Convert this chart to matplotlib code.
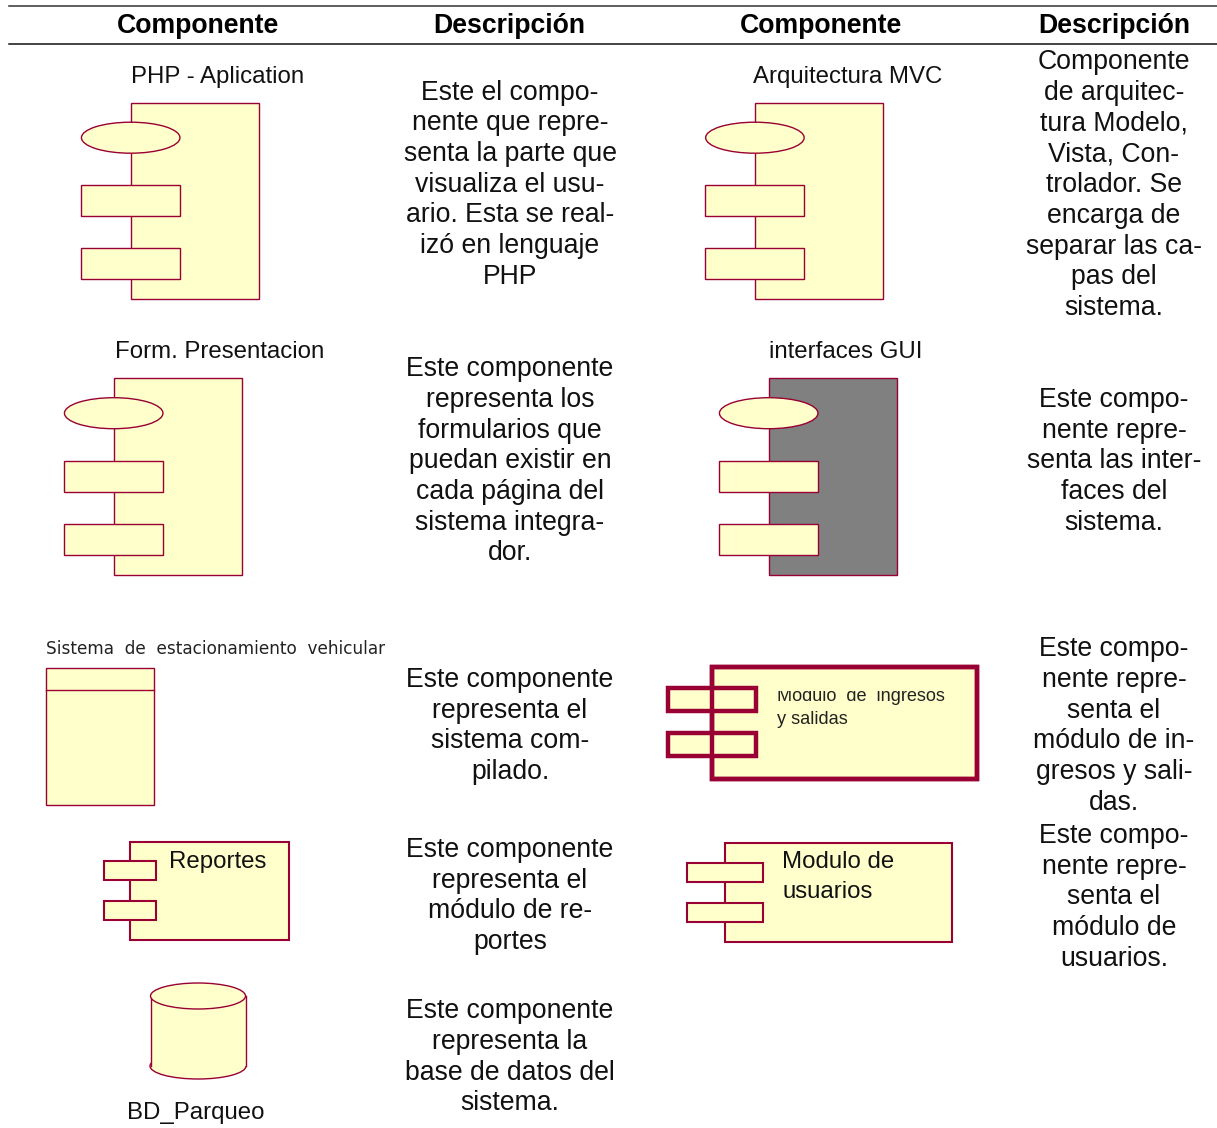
import matplotlib
matplotlib.use("Agg")
import matplotlib.pyplot as plt
from matplotlib.patches import Rectangle, Ellipse

plt.rcParams['font.family'] = ['Liberation Sans', 'DejaVu Sans']

FILL = "#FFFFCC"
EDGE = "#990033"
GREY = "#808080"
LINE_H = 30.75
TEXT_SIZE = 19.15
LABEL_SIZE = 17.3

headers = ["Componente", "Descripción", "Componente", "Descripción"]
header_x = [198, 509, 821, 1114]

# description column 2: first baseline, lines
desc_left_y = [99.5, 376, 687, 857, 1018]
desc_left = [
    ["Este el compo-", "nente que repre-", "senta la parte que", "visualiza el usu-",
     "ario. Esta se real-", "izó en lenguaje", "PHP"],
    ["Este componente", "representa los", "formularios que", "puedan existir en",
     "cada página del", "sistema integra-", "dor."],
    ["Este componente", "representa el", "sistema com-", "pilado."],
    ["Este componente", "representa el", "módulo de re-", "portes"],
    ["Este componente", "representa la", "base de datos del", "sistema."],
]

# description column 4
desc_right_y = [69, 407, 656, 843]
desc_right = [
    ["Componente", "de arquitec-", "tura Modelo,", "Vista, Con-", "trolador. Se",
     "encarga de", "separar las ca-", "pas del", "sistema."],
    ["Este compo-", "nente repre-", "senta las inter-", "faces del", "sistema."],
    ["Este compo-", "nente repre-", "senta el", "módulo de in-", "gresos y sali-", "das."],
    ["Este compo-", "nente repre-", "senta el", "módulo de", "usuarios."],
]

# big components with the ellipse on top: name, label x, label baseline, body left, body top, body fill
page_names = ["PHP - Aplication", "Arquitectura MVC", "Form. Presentacion", "interfaces GUI"]
page_label_x = [218, 847.5, 219.5, 846]
page_label_y = [83, 83, 358, 358]
page_x = [130.7, 754.9, 113.7, 768.7]
page_y = [102.7, 102.7, 378.2, 378.2]
page_fill = [FILL, FILL, FILL, GREY]

fig = plt.figure(figsize=(12.17, 11.28), dpi=100)
ax = fig.add_axes([0, 0, 1, 1])
ax.set_xlim(0, 1217)
ax.set_ylim(1128, 0)
ax.axis("off")


def box(x0, y0, x1, y1, fill=FILL, lw=1.0, z=2):
    ax.add_patch(Rectangle((x0, y0), x1 - x0, y1 - y0, facecolor=fill, edgecolor=EDGE, linewidth=lw, zorder=z))


def component(x0, y0, x1, y1, tab_left, tab_right, tab_y, tab_h, lw=1.0):
    box(x0, y0, x1, y1, lw=lw, z=2)
    for ty in tab_y:
        box(tab_left, ty, tab_right, ty + tab_h, lw=lw, z=3)
    return


# header rules
ax.plot([9, 1217], [6, 6], color="#333333", lw=1.1)
ax.plot([9, 1217], [43.5, 43.5], color="#111111", lw=1.1)
for hx, h in zip(header_x, headers):
    ax.text(hx, 33, h, ha="center", va="baseline", fontsize=TEXT_SIZE, fontweight="bold", color="black")

for y0, lines in zip(desc_left_y, desc_left):
    for i, s in enumerate(lines):
        ax.text(510, y0 + i * LINE_H, s, ha="center", va="baseline", fontsize=TEXT_SIZE, color="#111111")
for y0, lines in zip(desc_right_y, desc_right):
    for i, s in enumerate(lines):
        ax.text(1114, y0 + i * LINE_H, s, ha="center", va="baseline", fontsize=TEXT_SIZE, color="#111111")

# page components
for name, lx, ly, x, y, fc in zip(page_names, page_label_x, page_label_y, page_x, page_y, page_fill):
    ax.text(lx, ly, name, ha="center", va="baseline", fontsize=LABEL_SIZE, color="#111111")
    box(x, y, x + 128, y + 196.5, fill=fc)
    ax.add_patch(Ellipse((x, y + 35), 98.5, 31, facecolor=FILL, edgecolor=EDGE, linewidth=1.0, zorder=3))
    box(x - 50, y + 82.5, x + 49, y + 113.5, z=3)
    box(x - 50, y + 145.5, x + 49, y + 176.5, z=3)

# compiled system
ax.text(46, 654, "Sistema  de  estacionamiento  vehicular", ha="left", va="baseline", fontsize=12.2, color="#222222",
        family=["DejaVu Sans"])
box(46, 668, 153.5, 805)
ax.plot([46, 153.5], [689.5, 689.5], color=EDGE, lw=1.0, zorder=3)

# ingresos module, thick lines, body edge shows through the tabs
component(712, 667, 977, 779, 668, 755.5, [688, 733], 23, lw=3.2)
ax.add_patch(Rectangle((712, 667), 265, 112, facecolor="none", edgecolor=EDGE, linewidth=3.2, zorder=4))
t1 = ax.text(777, 701, "Modulo  de  ingresos", ha="left", va="baseline", fontsize=13.05, color="#222222", zorder=5)
t1.set_clip_on(True)
t1.set_clip_path(Rectangle((770, 690.5), 190, 30, transform=ax.transData))
ax.text(777, 724.5, "y salidas", ha="left", va="baseline", fontsize=13.05, color="#222222", zorder=5)

# usuarios module
component(725, 843, 952, 942, 687, 763, [863, 903], 19, lw=1.5)
ax.text(782, 868, "Modulo de", ha="left", va="baseline", fontsize=LABEL_SIZE, color="#111111", zorder=5)
ax.text(782, 898, "usuarios", ha="left", va="baseline", fontsize=LABEL_SIZE, color="#111111", zorder=5)

# reportes module
component(130, 842, 289, 940, 104, 156, [861, 901], 19, lw=1.5)
ax.text(169, 868, "Reportes", ha="left", va="baseline", fontsize=LABEL_SIZE, color="#111111", zorder=5)

# database cylinder
ax.add_patch(Ellipse((198, 1066), 96, 26, facecolor=FILL, edgecolor=EDGE, linewidth=1.0, zorder=2))
ax.add_patch(Rectangle((150.5, 996), 95, 70, facecolor=FILL, edgecolor="none", zorder=3))
ax.plot([150.5, 150.5], [996, 1066], color=EDGE, lw=1.0, zorder=4)
ax.plot([245.5, 245.5], [996, 1066], color=EDGE, lw=1.0, zorder=4)
ax.add_patch(Ellipse((198, 996), 95, 26, facecolor=FILL, edgecolor=EDGE, linewidth=1.0, zorder=5))
ax.text(195.5, 1119, "BD_Parqueo", ha="center", va="baseline", fontsize=LABEL_SIZE, color="#111111")

fig.savefig("out.png", dpi=100)
